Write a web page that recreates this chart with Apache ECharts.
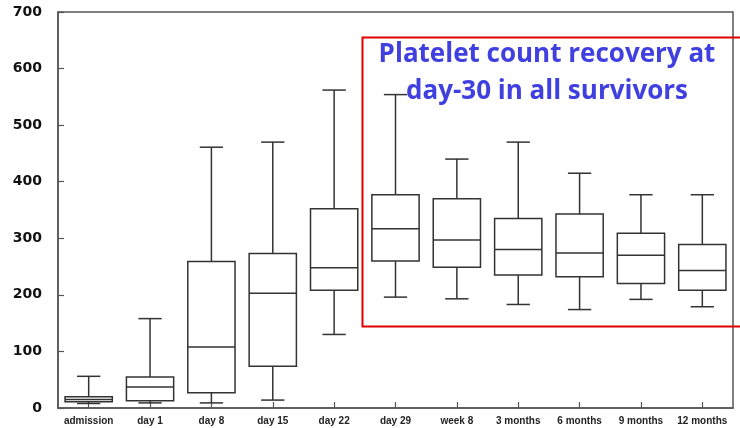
<!DOCTYPE html>
<html>
<head>
<meta charset="utf-8">
<script src="https://cdn.jsdelivr.net/npm/echarts@6/dist/echarts.min.js"></script>
<style>html,body{margin:0;padding:0;background:#fff}#c{width:740px;height:428px}</style>
</head>
<body>
<div id="c"></div>
<script>
var categories = ['admission','day 1','day 8','day 15','day 22','day 29','week 8','3 months','6 months','9 months','12 months'];
var mins    = [8, 9, 9, 14, 130, 196, 193, 183, 174, 192, 179];
var q1s     = [11, 13, 27, 74, 208, 260, 249, 235, 232, 220, 208];
var medians = [15, 37, 108, 203, 248, 317, 297, 280, 274, 270, 243];
var q3s     = [20, 55, 259, 273, 352, 377, 370, 335, 343, 309, 289];
var maxs    = [56, 158, 461, 470, 562, 554, 440, 470, 415, 377, 377];
var yTicks  = [0, 100, 200, 300, 400, 500, 600, 700];
var titleLines = ['Platelet count recovery at', 'day-30 in all survivors'];

var boxData = categories.map(function (c, i) {
  return [i, mins[i], q1s[i], medians[i], q3s[i], maxs[i]];
});

var chart = echarts.init(document.getElementById('c'));
var lineColor = '#333';
chart.setOption({
  animation: false,
  grid: { left: 58, right: 7, top: 12, bottom: 20, show: true, borderColor: '#555', borderWidth: 1.5, backgroundColor: 'transparent' },
  xAxis: {
    type: 'category',
    data: categories,
    boundaryGap: true,
    axisLine: { show: true, lineStyle: { color: '#555', width: 1.5 } },
    axisTick: { show: true, inside: true, alignWithLabel: true, interval: 0, length: 6, lineStyle: { color: '#555', width: 1.2 } },
    axisLabel: { color: '#222', fontFamily: 'Liberation Sans', fontWeight: 'bold', fontSize: 10, margin: 8, interval: 0, hideOverlap: false },
    splitLine: { show: false }
  },
  yAxis: {
    type: 'value',
    min: yTicks[0],
    max: yTicks[yTicks.length - 1],
    interval: 100,
    axisLine: { show: true, lineStyle: { color: '#555', width: 1.5 } },
    axisTick: { show: true, inside: true, length: 6, lineStyle: { color: '#555', width: 1.2 } },
    axisLabel: { color: '#111', fontFamily: 'DejaVu Sans', fontWeight: 'bold', fontSize: 14, margin: 16 },
    splitLine: { show: false }
  },
  series: [{
    type: 'custom',
    data: boxData,
    encode: { x: 0, y: [1, 2, 3, 4, 5] },
    renderItem: function (params, api) {
      var idx = api.value(0);
      var band = api.size([1, 0])[0];
      var hw = band * 0.385;
      var cw = band * 0.19;
      var pMin = api.coord([idx, api.value(1)]);
      var pQ1 = api.coord([idx, api.value(2)]);
      var pMed = api.coord([idx, api.value(3)]);
      var pQ3 = api.coord([idx, api.value(4)]);
      var pMax = api.coord([idx, api.value(5)]);
      var x = pQ1[0];
      var st = { stroke: lineColor, lineWidth: 1.5, fill: null };
      return {
        type: 'group',
        children: [
          { type: 'rect', shape: { x: x - hw, y: pQ3[1], width: 2 * hw, height: pQ1[1] - pQ3[1] }, style: { stroke: lineColor, lineWidth: 1.5, fill: '#fff' } },
          { type: 'line', shape: { x1: x - hw, y1: pMed[1], x2: x + hw, y2: pMed[1] }, style: st },
          { type: 'line', shape: { x1: x, y1: pQ3[1], x2: x, y2: pMax[1] }, style: st },
          { type: 'line', shape: { x1: x, y1: pQ1[1], x2: x, y2: pMin[1] }, style: st },
          { type: 'line', shape: { x1: x - cw, y1: pMax[1], x2: x + cw, y2: pMax[1] }, style: st },
          { type: 'line', shape: { x1: x - cw, y1: pMin[1], x2: x + cw, y2: pMin[1] }, style: st }
        ]
      };
    }
  }],
  graphic: [
    { type: 'rect', left: 360, top: 35, shape: { width: 400, height: 289 }, style: { stroke: '#e00000', lineWidth: 2, fill: null }, z: 10 },
    { type: 'text', x: 547, y: 55, style: { text: titleLines[0], fill: '#4040e0', font: 'bold 26px "Open Sans"', textAlign: 'center', textVerticalAlign: 'middle' }, z: 11 },
    { type: 'text', x: 547, y: 92, style: { text: titleLines[1], fill: '#4040e0', font: 'bold 26px "Open Sans"', textAlign: 'center', textVerticalAlign: 'middle' }, z: 11 }
  ]
});
</script>
</body>
</html>
